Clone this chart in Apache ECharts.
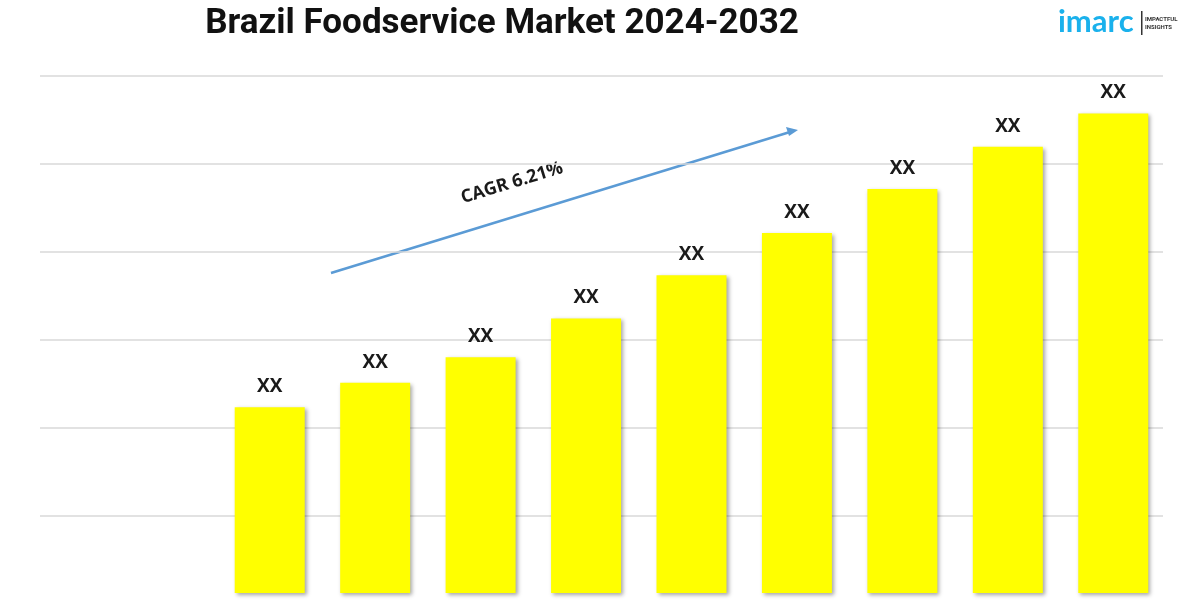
<!DOCTYPE html>
<html lang="en">
  <head>
    <meta charset="UTF-8" />
    <title>Brazil Foodservice Market 2024-2032</title>
    <script src="https://cdn.jsdelivr.net/npm/echarts@6/dist/echarts.min.js"></script>
    <style>
      body {
        margin: 0;
        background: #ffffff;
      }
      /* the chart runs a little past the bottom edge, like the cropped original */
      .frame {
        width: 1200px;
        height: 600px;
        overflow: hidden;
      }
      #chart {
        width: 1200px;
        height: 610px;
      }
    </style>
  </head>
  <body>
    <div class="frame"><div id="chart"></div></div>

    <script>
      // data (arbitrary units, values hidden as "XX")
      var years = ["2024", "2025", "2026", "2027", "2028", "2029", "2030", "2031", "2032"];
      var marketValues = [211, 239, 268, 312, 361, 409, 459, 507, 545];
      var valueLabels = ["XX", "XX", "XX", "XX", "XX", "XX", "XX", "XX", "XX"];
      var cagrText = "CAGR 6.21%";

      var chart = echarts.init(document.getElementById("chart"));

      // shared value range so both grids line up
      var yMin = -12.5;
      var yMax = 587.5;
      var yStep = 100;

      var option = {
        backgroundColor: "#ffffff",
        animation: false,
        title: {
          text: "Brazil Foodservice Market 2024-2032",
          left: 503,
          top: 2,
          textAlign: "center",
          textStyle: {
            fontFamily: "Roboto",
            fontWeight: "bold",
            fontSize: 35,
            color: "#111111",
          },
        },
        grid: [
          // background grid with the horizontal lines
          { left: 40, right: 37, top: 76, bottom: 6 },
          // grid holding the bars
          { left: 217, right: 34, top: 76, bottom: 6 },
        ],
        xAxis: [
          { gridIndex: 0, type: "category", data: [""], show: false },
          {
            gridIndex: 1,
            type: "category",
            data: years,
            show: false,
          },
        ],
        yAxis: [
          {
            gridIndex: 0,
            type: "value",
            min: yMin,
            max: yMax,
            interval: yStep,
            axisLine: { show: false },
            axisTick: { show: false },
            axisLabel: { show: false },
            splitLine: { lineStyle: { color: "#d9d9d9", width: 1.5 } },
          },
          {
            gridIndex: 1,
            type: "value",
            min: yMin,
            max: yMax,
            interval: yStep,
            show: false,
            splitLine: { show: false },
          },
        ],
        series: [
          {
            type: "bar",
            xAxisIndex: 1,
            yAxisIndex: 1,
            data: marketValues,
            barWidth: 70,
            itemStyle: {
              color: "#ffff00",
              shadowColor: "rgba(0,0,0,0.35)",
              shadowBlur: 4,
              shadowOffsetX: 2,
              shadowOffsetY: 2,
            },
            label: {
              show: true,
              position: "top",
              distance: 11,
              formatter: function (p) {
                return valueLabels[p.dataIndex];
              },
              fontFamily: "Open Sans",
              fontWeight: "bold",
              fontSize: 19,
              color: "#1a1a1a",
            },
          },
        ],
        graphic: [
          // CAGR arrow
          {
            type: "line",
            shape: { x1: 331, y1: 273, x2: 790, y2: 132 },
            style: { stroke: "#5b9bd5", lineWidth: 2.5 },
          },
          {
            type: "polygon",
            shape: {
              points: [
                [798, 130],
                [786, 127],
                [789, 136],
              ],
            },
            style: { fill: "#5b9bd5" },
          },
          {
            type: "text",
            x: 512,
            y: 183,
            rotation: (17 * Math.PI) / 180,
            style: {
              text: cagrText,
              fontFamily: "Open Sans",
              fontWeight: "bold",
              fontSize: 18,
              fill: "#1a1a1a",
              align: "center",
              verticalAlign: "middle",
            },
          },
          // logo
          {
            type: "text",
            x: 1058,
            y: 22,
            style: {
              text: "imarc",
              fontFamily: "Lato",
              fontWeight: "bold",
              fontSize: 31,
              fill: "#1ab1ec",
              verticalAlign: "middle",
            },
          },
          {
            type: "rect",
            shape: { x: 1141, y: 11, width: 1.5, height: 24 },
            style: { fill: "#333333" },
          },
          {
            type: "text",
            x: 1145,
            y: 15,
            style: {
              text: "IMPACTFUL\nINSIGHTS",
              fontFamily: "Roboto",
              fontWeight: "bold",
              fontSize: 6,
              lineHeight: 8,
              fill: "#333333",
            },
          },
        ],
      };

      // title is nudged a few pixels left to sit where the original one does
      option.title.left = 497;

      chart.setOption(option);
    </script>
  </body>
</html>
